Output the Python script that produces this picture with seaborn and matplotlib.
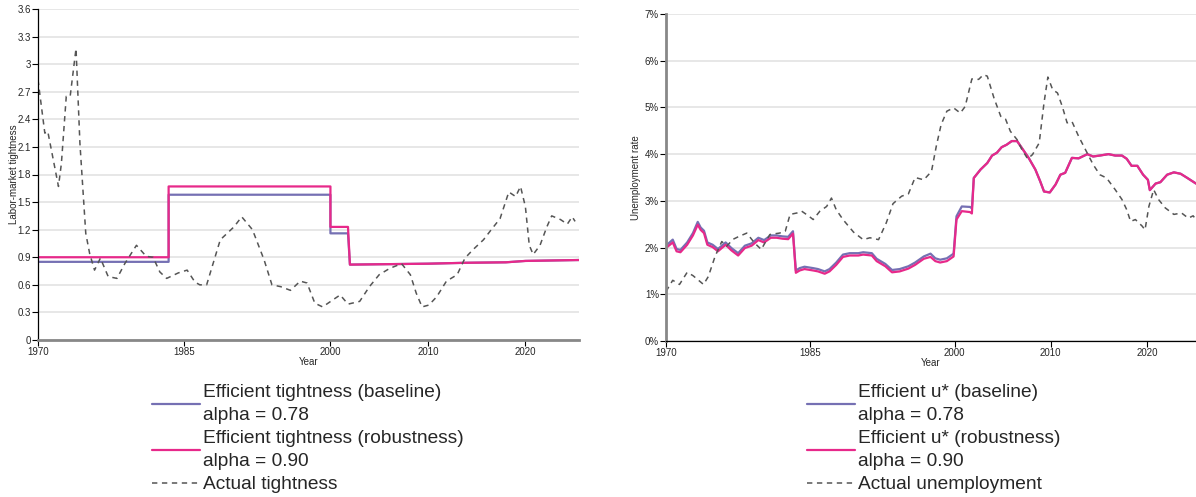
import matplotlib
matplotlib.use("Agg")
import matplotlib.pyplot as plt
import numpy as np
import pandas as pd
import seaborn as sns

# ---- left panel: labor-market tightness ----
eff_t_years = [1970, 1983.4, 1983.4, 2000.0, 2000.0, 2001.8, 2002.0, 2006, 2010, 2014, 2018, 2020, 2025.5]
eff_t_base = [0.85, 0.85, 1.58, 1.58, 1.16, 1.16, 0.82, 0.825, 0.83, 0.84, 0.845, 0.86, 0.87]
eff_t_rob = [0.90, 0.90, 1.67, 1.67, 1.23, 1.23, 0.82, 0.825, 0.83, 0.84, 0.845, 0.86, 0.87]

act_t_years = [1970.0, 1970.7, 1971.0, 1972.1, 1972.4, 1972.9, 1973.3, 1973.9, 1974.3, 1974.9,
               1975.3, 1975.8, 1976.4, 1977.2, 1978.1, 1978.9, 1980.1, 1981.1, 1981.8, 1982.5,
               1983.2, 1984.4, 1985.3, 1986.1, 1986.6, 1987.3, 1988.7, 1990.1, 1990.9, 1992.0,
               1993.2, 1994.0, 1994.9, 1995.9, 1996.9, 1997.6, 1998.4, 1999.2, 2000.3, 2001.0,
               2001.8, 2003.0, 2004.0, 2005.0, 2006.1, 2007.3, 2008.2, 2008.8, 2009.4, 2010.1,
               2010.9, 2011.9, 2013.0, 2013.8, 2014.6, 2015.7, 2016.5, 2017.4, 2018.3, 2019.0,
               2019.5, 2020.0, 2020.4, 2020.8, 2021.5, 2022.2, 2022.7, 2023.6, 2024.3, 2024.8,
               2025.1]
act_t = [2.83, 2.25, 2.27, 1.67, 1.92, 2.65, 2.65, 3.17, 2.14, 1.16,
         0.94, 0.76, 0.89, 0.69, 0.67, 0.83, 1.03, 0.91, 0.90, 0.74,
         0.67, 0.73, 0.76, 0.63, 0.60, 0.60, 1.09, 1.23, 1.34, 1.20,
         0.87, 0.60, 0.58, 0.54, 0.64, 0.62, 0.40, 0.36, 0.44, 0.49,
         0.39, 0.42, 0.58, 0.71, 0.78, 0.83, 0.71, 0.51, 0.36, 0.38,
         0.47, 0.64, 0.71, 0.89, 0.98, 1.09, 1.20, 1.32, 1.61, 1.56,
         1.67, 1.45, 1.03, 0.93, 1.03, 1.23, 1.35, 1.31, 1.26, 1.34,
         1.29]

# ---- right panel: unemployment rate (%) ----
u_years = [1970.0, 1970.7, 1971.1, 1971.5, 1972.2, 1972.8, 1973.3, 1973.6, 1973.95, 1974.3,
           1974.85, 1975.4, 1975.8, 1976.2, 1976.8, 1977.5, 1978.2, 1978.9, 1979.6, 1980.2,
           1980.9, 1981.5, 1982.1, 1982.7, 1983.2, 1983.5, 1983.9, 1984.4, 1985.3, 1985.8,
           1986.5, 1987.0, 1987.7, 1988.4, 1989.1, 1990.0, 1990.5, 1991.4, 1991.9, 1992.8,
           1993.5, 1994.3, 1995.2, 1995.9, 1996.8, 1997.5, 1998.0, 1998.5, 1999.2, 1999.9,
           2000.2, 2000.75, 2001.6, 2001.8, 2002.0, 2002.7, 2003.4, 2003.9, 2004.4, 2004.9,
           2005.4, 2005.95, 2006.5, 2007.0, 2007.7, 2008.4, 2008.9, 2009.3, 2009.9, 2010.5,
           2011.0, 2011.5, 2012.2, 2012.9, 2013.8, 2014.4, 2015.1, 2016.0, 2016.7, 2017.4,
           2017.9, 2018.4, 2019.0, 2019.6, 2020.1, 2020.3, 2020.9, 2021.4, 2022.1, 2022.8,
           2023.5, 2024.2, 2025.1]
u_rob = [1.99, 2.11, 1.92, 1.90, 2.06, 2.26, 2.49, 2.38, 2.31, 2.06,
         2.01, 1.92, 1.99, 2.06, 1.94, 1.83, 1.99, 2.04, 2.16, 2.11,
         2.21, 2.21, 2.19, 2.18, 2.30, 1.46, 1.51, 1.54, 1.51, 1.49,
         1.44, 1.49, 1.63, 1.80, 1.83, 1.83, 1.85, 1.83, 1.71, 1.60,
         1.47, 1.49, 1.55, 1.63, 1.76, 1.80, 1.71, 1.68, 1.71, 1.81,
         2.60, 2.78, 2.76, 2.73, 3.49, 3.67, 3.81, 3.97, 4.03, 4.15,
         4.20, 4.28, 4.28, 4.13, 3.92, 3.67, 3.42, 3.20, 3.18, 3.35,
         3.56, 3.60, 3.92, 3.91, 4.00, 3.95, 3.97, 4.00, 3.97, 3.97,
         3.90, 3.75, 3.75, 3.56, 3.45, 3.23, 3.37, 3.40, 3.56, 3.61,
         3.58, 3.49, 3.37]
u_base = [2.04, 2.17, 1.97, 1.95, 2.11, 2.31, 2.55, 2.43, 2.36, 2.11,
          2.06, 1.97, 2.04, 2.11, 1.99, 1.88, 2.04, 2.09, 2.21, 2.16,
          2.26, 2.26, 2.24, 2.23, 2.35, 1.51, 1.56, 1.59, 1.56, 1.54,
          1.49, 1.54, 1.68, 1.85, 1.88, 1.88, 1.90, 1.88, 1.76, 1.65,
          1.52, 1.54, 1.60, 1.68, 1.81, 1.87, 1.77, 1.74, 1.77, 1.87,
          2.67, 2.88, 2.87, 2.84, 3.49, 3.67, 3.81, 3.97, 4.03, 4.15,
          4.20, 4.28, 4.28, 4.13, 3.92, 3.67, 3.42, 3.20, 3.18, 3.35,
          3.56, 3.60, 3.92, 3.91, 4.00, 3.95, 3.97, 4.00, 3.97, 3.97,
          3.90, 3.75, 3.75, 3.56, 3.45, 3.23, 3.37, 3.40, 3.56, 3.61,
          3.58, 3.49, 3.37]

act_u_years = [1970.0, 1970.7, 1971.4, 1972.2, 1972.8, 1973.5, 1973.9, 1974.4, 1975.1, 1975.8,
               1976.3, 1977.0, 1977.5, 1978.4, 1979.2, 1979.9, 1980.8, 1981.8, 1982.4, 1982.9,
               1983.6, 1984.1, 1984.8, 1985.3, 1986.0, 1986.7, 1987.2, 1987.7, 1988.4, 1989.5,
               1990.5, 1991.2, 1992.1, 1992.9, 1993.6, 1994.5, 1995.2, 1995.9, 1996.8, 1997.6,
               1998.1, 1998.6, 1999.2, 1999.9, 2000.6, 2001.1, 2001.8, 2002.5, 2003.0, 2003.4,
               2004.1, 2004.8, 2005.3, 2005.8, 2006.5, 2007.0, 2007.6, 2008.1, 2008.8, 2009.3,
               2009.7, 2010.2, 2010.7, 2011.2, 2011.7, 2012.2, 2012.9, 2013.6, 2014.4, 2015.1,
               2015.8, 2016.7, 2017.4, 2017.9, 2018.3, 2018.8, 2019.5, 2019.8, 2020.2, 2020.7,
               2021.2, 2021.9, 2022.8, 2023.6, 2024.3, 2024.8, 2025.1]
act_u = [1.06, 1.30, 1.21, 1.47, 1.40, 1.28, 1.21, 1.38, 1.81, 2.13,
         2.03, 2.18, 2.23, 2.31, 2.10, 1.96, 2.28, 2.31, 2.35, 2.71,
         2.74, 2.78, 2.68, 2.60, 2.78, 2.88, 3.06, 2.81, 2.60, 2.33,
         2.17, 2.21, 2.17, 2.53, 2.94, 3.10, 3.15, 3.50, 3.45, 3.63,
         4.17, 4.63, 4.92, 4.99, 4.88, 5.02, 5.61, 5.60, 5.70, 5.67,
         5.20, 4.81, 4.75, 4.49, 4.31, 4.10, 3.90, 3.99, 4.24, 5.10,
         5.65, 5.38, 5.31, 5.02, 4.67, 4.70, 4.38, 4.10, 3.78, 3.56,
         3.49, 3.24, 3.03, 2.81, 2.56, 2.60, 2.46, 2.38, 2.88, 3.24,
         3.03, 2.85, 2.71, 2.74, 2.63, 2.68, 2.60]

x_ticks = [1970, 1985, 2000, 2010, 2020]
t_ticks = [0, 0.3, 0.6, 0.9, 1.2, 1.5, 1.8, 2.1, 2.4, 2.7, 3, 3.3, 3.6]
t_tick_labels = ["0", "0.3", "0.6", "0.9", "1.2", "1.5", "1.8", "2.1", "2.4", "2.7", "3", "3.3", "3.6"]
u_ticks = [0, 1, 2, 3, 4, 5, 6, 7]
u_tick_labels = ["0%", "1%", "2%", "3%", "4%", "5%", "6%", "7%"]

PURPLE = "#7570b3"
PINK = "#e7298a"
GREY = "#555555"

sns.set_theme(style="white")
plt.rcParams["font.family"] = ["Liberation Sans", "DejaVu Sans"]

fig = plt.figure(figsize=(11.96, 4.97), dpi=100)
ax1 = fig.add_axes([38 / 1196, 1 - 340 / 497, 541 / 1196, 331 / 497])
ax2 = fig.add_axes([666 / 1196, 1 - 341 / 497, 530 / 1196, 327 / 497])


def style_axis(ax, yticks, ylabels, ylabel, xmax, ymax, thick_side, ypad):
    ax.set_xlim(1970, xmax)
    ax.set_ylim(0, ymax)
    ax.set_xticks(x_ticks)
    ax.set_xticklabels([str(t) for t in x_ticks])
    ax.set_yticks(yticks)
    ax.set_yticklabels(ylabels)
    ax.tick_params(axis="both", labelsize=7, length=4, width=0.8,
                   color="black", pad=1, bottom=True, left=True)
    ax.grid(True, axis="y", color="#e3e3e3", linewidth=1.2)
    ax.grid(False, axis="x")
    ax.set_axisbelow(True)
    for s in ["top", "right"]:
        ax.spines[s].set_visible(False)
    thin = "left" if thick_side == "bottom" else "bottom"
    ax.spines[thick_side].set_color("#888888")
    ax.spines[thick_side].set_linewidth(2)
    ax.spines[thin].set_color("black")
    ax.spines[thin].set_linewidth(0.9)
    ax.set_xlabel("Year", fontsize=7, labelpad=0)
    ax.set_ylabel(ylabel, fontsize=7, labelpad=ypad)


# left panel
df_eff = pd.DataFrame({"year": eff_t_years, "base": eff_t_base, "rob": eff_t_rob})
df_act = pd.DataFrame({"year": act_t_years, "val": act_t})
sns.lineplot(data=df_eff, x="year", y="base", ax=ax1, color=PURPLE, linewidth=1.6,
             estimator=None, sort=False, label="Efficient tightness (baseline)\nalpha = 0.78")
sns.lineplot(data=df_eff, x="year", y="rob", ax=ax1, color=PINK, linewidth=1.6,
             estimator=None, sort=False, label="Efficient tightness (robustness)\nalpha = 0.90")
sns.lineplot(data=df_act, x="year", y="val", ax=ax1, color=GREY, linewidth=1.1,
             linestyle=(0, (3.5, 3)), estimator=None, sort=False, label="Actual tightness")
style_axis(ax1, t_ticks, t_tick_labels, "Labor-market tightness", 2025.5, 3.6, "bottom", -1)

# right panel
df_u = pd.DataFrame({"year": u_years, "base": u_base, "rob": u_rob})
df_au = pd.DataFrame({"year": act_u_years, "val": act_u})
sns.lineplot(data=df_u, x="year", y="base", ax=ax2, color=PURPLE, linewidth=1.6,
             estimator=None, sort=False, label="Efficient u* (baseline)\nalpha = 0.78")
sns.lineplot(data=df_u, x="year", y="rob", ax=ax2, color=PINK, linewidth=1.6,
             estimator=None, sort=False, label="Efficient u* (robustness)\nalpha = 0.90")
sns.lineplot(data=df_au, x="year", y="val", ax=ax2, color=GREY, linewidth=1.1,
             linestyle=(0, (3.5, 3)), estimator=None, sort=False, label="Actual unemployment")
style_axis(ax2, u_ticks, u_tick_labels, "Unemployment rate", 2025.1, 7, "left", 3)

# legends under each panel
for ax, x0 in [(ax1, 152), (ax2, 807)]:
    h, l = ax.get_legend_handles_labels()
    leg = ax.legend(h, l, loc="upper left", bbox_to_anchor=(x0 / 1196, 1 - 384 / 497),
                    bbox_transform=fig.transFigure, frameon=False, fontsize=13.8,
                    handlelength=2.5, handletextpad=0.15, labelspacing=0.32,
                    borderpad=0, borderaxespad=0)
    for t in leg.get_texts():
        t.set_linespacing(1.45)

fig.savefig("out.png", dpi=100)
